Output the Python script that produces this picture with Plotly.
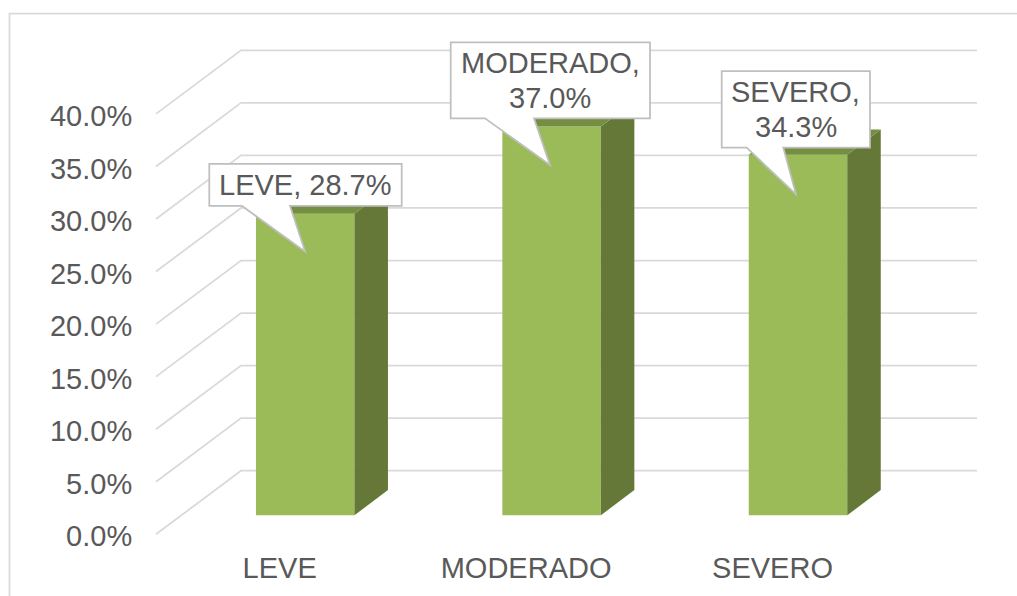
import plotly.graph_objects as go

categories = ["LEVE", "MODERADO", "SEVERO"]
values = [28.7, 37.0, 34.3]
y_ticks = [0, 5, 10, 15, 20, 25, 30, 35, 40]

# layout constants (pixels)
W, H = 1017, 596
PL, PR, PT, PB = 150, 985, 30, 540     # plot area
X0, Y0 = 305.2, 534.3                  # pixel of x=0 and y=0
UX, UY = 246.4, 10.51                  # pixels per data unit
WALL_L, WALL_R = 156, 977
DEPTH_X, DEPTH_Y = 85 / UX, 63.6 / UY  # floor depth, data units
BAR_W = 98.5 / UX
BAR_DX, BAR_DY = 33.5 / UX, 25.3 / UY
BAR_BASE = 19 / UY
LABEL_DX = 25.5 / UX
LINE_GAP = 35

GRID = "#D9D9D9"
TEXT = "#595959"
FRONT = "#9BBB59"
SIDE = "#657837"
TOP = "#758F42"
CALLOUT = "#BFBFBF"
FS = 29

# callout geometry in pixels from top centre of bar: left,right,top,bottom,wedgeL,wedgeR,tipx,tipy
callouts = [
    (-95.9, 96.5, -49.7, -7.7, -63.2, -15.2, 0, 38),
    (-100.9, 98.4, -84.1, -8.1, -66.6, -17.6, -1.6, 38.6),
    (-76.3, 72, -83.8, -7.1, -51.3, -14.7, -2, 39.5),
]
label_lines = [[f"{categories[0]}, {values[0]:.1f}%"],
               [f"{categories[1]},", f"{values[1]:.1f}%"],
               [f"{categories[2]},", f"{values[2]:.1f}%"]]

xs = list(range(len(categories)))
fig = go.Figure()

# front faces
fig.add_trace(go.Bar(x=xs, y=values, base=BAR_BASE, width=BAR_W,
                     marker=dict(color=FRONT, line=dict(width=0)),
                     hoverinfo="skip", showlegend=False))

# side and top faces
for x, v in zip(xs, values):
    r = x + BAR_W / 2
    l = x - BAR_W / 2
    top = BAR_BASE + v
    fig.add_trace(go.Scatter(
        x=[r, r + BAR_DX, r + BAR_DX, r, r],
        y=[BAR_BASE, BAR_BASE + BAR_DY, top + BAR_DY, top, BAR_BASE],
        mode="lines", fill="toself", fillcolor=SIDE, line=dict(width=0),
        hoverinfo="skip", showlegend=False))
    fig.add_trace(go.Scatter(
        x=[l, l + BAR_DX, r + BAR_DX, r, l],
        y=[top, top + BAR_DY, top + BAR_DY, top, top],
        mode="lines", fill="toself", fillcolor=TOP, line=dict(width=0),
        hoverinfo="skip", showlegend=False))

shapes = []
# floor-to-wall gridlines, behind the bars
x_front = (WALL_L - X0) / UX
x_right = (WALL_R - X0) / UX
for t in y_ticks:
    shapes.append(dict(
        type="path", xref="x", yref="y", layer="below",
        path=f"M {x_front},{t} L {x_front + DEPTH_X},{t + DEPTH_Y} L {x_right},{t + DEPTH_Y}",
        line=dict(color=GRID, width=1.75)))

# outer frame, running off the page to the right and bottom
px = lambda p: (p - PL) / (PR - PL)
py = lambda p: 1 - (p - PT) / (PB - PT)
shapes.append(dict(type="path", xref="paper", yref="paper", layer="below",
                   path=f"M {px(9.5)},{py(610)} L {px(9.5)},{py(13.5)} L {px(1030)},{py(13.5)}",
                   line=dict(color=GRID, width=1.75)))

# callouts
annotations = []
for x, v, c, lines in zip(xs, values, callouts, label_lines):
    left, right, top, bottom, wl, wr, tx, ty = c
    top_val = BAR_BASE + v
    P = lambda dx, dy: f"{x + dx / UX},{top_val - dy / UY}"
    shapes.append(dict(
        type="path", xref="x", yref="y", layer="above",
        path=("M " + P(left, top) + " L " + P(right, top) + " L " + P(right, bottom)
              + " L " + P(wr, bottom) + " L " + P(tx, ty) + " L " + P(wl, bottom)
              + " L " + P(left, bottom) + " Z"),
        fillcolor="white", line=dict(color=CALLOUT, width=1.75)))
    mid = (top + bottom) / 2
    for i, line in enumerate(lines):
        dy = mid + (i - (len(lines) - 1) / 2) * LINE_GAP
        annotations.append(dict(
            x=x, y=top_val, xref="x", yref="y", text=line, showarrow=False,
            xanchor="center", yanchor="middle", align="center",
            xshift=(left + right) / 2, yshift=-dy,
            font=dict(size=FS, color=TEXT, family="Liberation Sans")))

fig.update_layout(
    width=W, height=H, autosize=False,
    margin=dict(l=PL, r=W - PR, t=PT, b=H - PB, pad=0),
    paper_bgcolor="white", plot_bgcolor="rgba(0,0,0,0)",
    font=dict(family="Liberation Sans", size=FS, color=TEXT),
    showlegend=False, barmode="overlay",
    shapes=shapes, annotations=annotations,
    xaxis=dict(range=[(PL - X0) / UX, (PR - X0) / UX], tickmode="array",
               tickvals=[x - LABEL_DX for x in xs], ticktext=categories,
               showgrid=False, zeroline=False, showline=False,
               ticks="outside", ticklen=2, tickcolor="rgba(0,0,0,0)",
               tickfont=dict(size=FS, color=TEXT), automargin=False),
    yaxis=dict(range=[(Y0 - PB) / UY, (Y0 - PT) / UY], tickmode="array",
               tickvals=y_ticks, ticktext=[f"{t:.1f}%" for t in y_ticks],
               showgrid=False, zeroline=False, showline=False,
               ticks="outside", ticklen=11, tickcolor="rgba(0,0,0,0)",
               ticklabelshift=2,
               tickfont=dict(size=FS, color=TEXT), automargin=False),
)

fig.write_html("out.html", config={"displayModeBar": False},
               post_script="document.body.style.margin='0';document.documentElement.style.overflow='hidden';")
